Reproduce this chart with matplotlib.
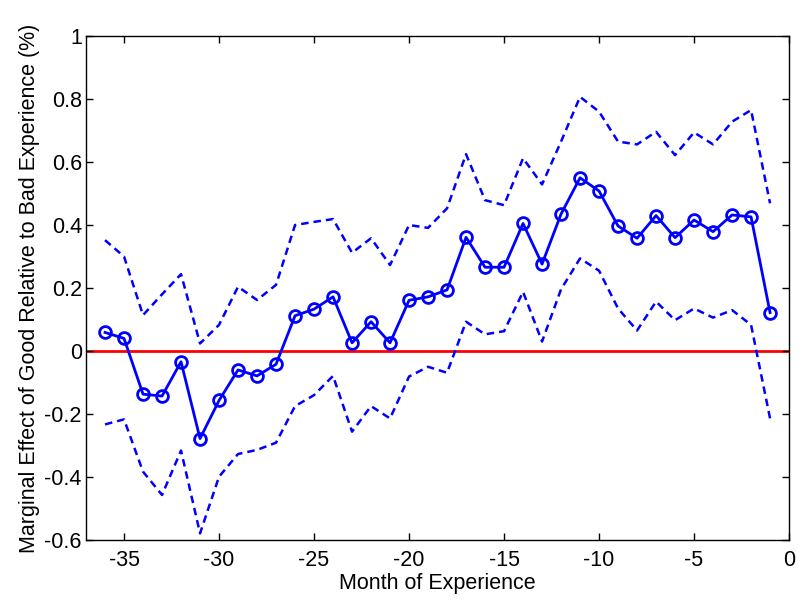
import numpy as np
import matplotlib
matplotlib.use('Agg')
import matplotlib.pyplot as plt

plt.rcParams['font.family'] = ['Liberation Sans', 'DejaVu Sans']

months = list(range(-36, 0))
effect = [0.059, 0.040, -0.137, -0.143, -0.034, -0.278, -0.157, -0.060, -0.079, -0.042,
          0.112, 0.133, 0.172, 0.026, 0.093, 0.026, 0.161, 0.172, 0.194, 0.361,
          0.266, 0.266, 0.405, 0.276, 0.435, 0.550, 0.508, 0.397, 0.358, 0.430,
          0.360, 0.416, 0.379, 0.432, 0.426, 0.122]
upper = [0.352, 0.300, 0.114, 0.180, 0.244, 0.024, 0.083, 0.204, 0.162, 0.210,
         0.400, 0.410, 0.419, 0.312, 0.358, 0.273, 0.400, 0.391, 0.453, 0.625,
         0.479, 0.463, 0.612, 0.529, 0.665, 0.807, 0.760, 0.665, 0.656, 0.696,
         0.622, 0.694, 0.656, 0.728, 0.765, 0.469]
lower = [-0.233, -0.217, -0.383, -0.457, -0.316, -0.579, -0.399, -0.327, -0.314, -0.291,
         -0.175, -0.140, -0.079, -0.256, -0.175, -0.214, -0.081, -0.050, -0.069, 0.093,
         0.053, 0.063, 0.188, 0.030, 0.196, 0.294, 0.255, 0.135, 0.065, 0.157,
         0.098, 0.135, 0.106, 0.130, 0.083, -0.214]

xticks = [-35, -30, -25, -20, -15, -10, -5, 0]
yticks = [-0.6, -0.4, -0.2, 0, 0.2, 0.4, 0.6, 0.8, 1]
yticklabels = ['-0.6', '-0.4', '-0.2', '0', '0.2', '0.4', '0.6', '0.8', '1']

fig = plt.figure(figsize=(7.98, 6.01), dpi=100)
ax = fig.add_axes([0.1078, 0.1015, 0.881, 0.8385])

ax.axhline(0, color='#ff0000', lw=2, zorder=1)
ax.plot(months, upper, '--', color='#0000ff', lw=1.8, dashes=(3, 2))
ax.plot(months, lower, '--', color='#0000ff', lw=1.8, dashes=(3, 2))
ax.plot(months, effect, '-o', color='#0000ff', lw=2, ms=8.5, mfc='none', mew=2)

ax.set_xlim(-37, 0)
ax.set_ylim(-0.6, 1)
ax.set_xticks(xticks)
ax.set_xticklabels([str(t) for t in xticks])
ax.set_yticks(yticks)
ax.set_yticklabels(yticklabels)
ax.tick_params(direction='in', top=True, right=True, labelsize=15.5, length=5, width=1)
ax.tick_params(axis='x', pad=7)
ax.tick_params(axis='y', pad=3)
for s in ax.spines.values():
    s.set_linewidth(1)

ax.set_xlabel('Month of Experience', fontsize=15.5, labelpad=2)
ax.set_ylabel('Marginal Effect of Good Relative to Bad Experience (%)', fontsize=15.5, labelpad=3)

fig.savefig('out.png', dpi=100)
